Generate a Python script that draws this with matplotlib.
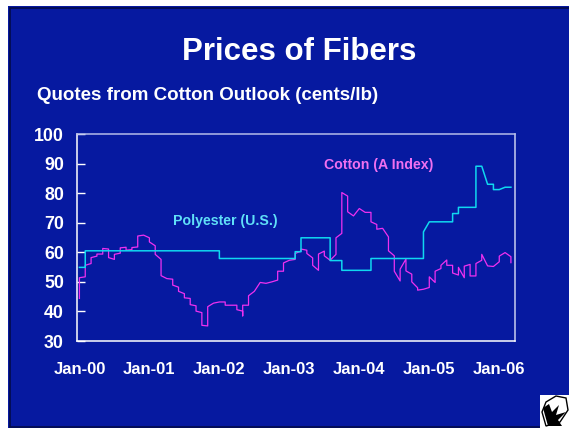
import matplotlib
matplotlib.use("Agg")
import matplotlib.pyplot as plt
from matplotlib.patches import Rectangle, Polygon

# months since Jan-00, cents/lb
cotton_m = [0, 0, 1, 1, 2, 2, 3, 3, 4, 4, 5, 5, 6, 6, 7, 7, 8, 8, 9, 9, 10, 10, 11, 12, 12, 13, 13, 14, 14, 15,
            16, 16, 17, 17, 18, 18, 19, 19, 20, 20, 21, 21, 22, 22, 23, 24, 25, 25, 27, 27, 28, 28, 28, 29, 29,
            30, 31, 32, 33, 34, 34, 35, 35, 36, 37, 37, 38, 38, 39, 39, 40, 40, 41, 41, 42, 42, 43, 44, 44, 45,
            45, 46, 46, 47, 48, 49, 50, 50, 51, 51, 52, 53, 53, 54, 54, 55, 55, 56, 56, 57, 57, 58, 58, 59, 60,
            60, 61, 61, 62, 62, 63, 63, 64, 64, 65, 65, 66, 66, 67, 67, 68, 68, 69, 69, 70, 71, 72, 72, 73, 74, 74]
cotton_v = [44.4, 51.4, 51.7, 55.6, 56.2, 58.2, 58.7, 59.4, 59.4, 61.3, 61.1, 58.2, 57.6, 59.3, 59.7, 61.5, 61.7,
            60.7, 60.9, 61.6, 61.8, 65.5, 65.8, 64.9, 63.5, 62.2, 59.3, 57.6, 52.1, 51.1, 50.9, 48.9, 48.2, 46.8,
            46.0, 44.6, 44.4, 42.3, 41.9, 40.1, 39.6, 35.3, 35.1, 41.6, 42.8, 43.2, 43.2, 42.1, 42.1, 40.6, 40.1,
            38.5, 42.1, 42.1, 45.3, 46.8, 49.8, 49.5, 50.0, 50.6, 53.6, 53.6, 56.4, 57.3, 57.6, 59.6, 60.4, 61.1,
            60.7, 59.6, 58.1, 55.6, 53.9, 59.4, 60.4, 58.8, 57.3, 59.3, 64.9, 66.4, 80.2, 79.0, 73.7, 72.3, 74.8,
            73.5, 73.5, 70.3, 69.4, 67.8, 68.1, 65.2, 60.5, 58.8, 53.6, 50.3, 54.3, 57.7, 53.7, 52.6, 50.0, 48.0,
            47.2, 47.5, 48.1, 51.7, 49.8, 53.6, 54.5, 55.6, 57.4, 55.6, 55.6, 53.0, 52.3, 54.9, 51.4, 55.3, 55.9,
            52.0, 52.0, 56.2, 57.3, 59.3, 55.4, 55.2, 56.8, 58.7, 59.9, 58.5, 56.5]
poly_m = [0, 1, 1, 24, 24, 37, 37, 38, 38, 43, 43, 45, 45, 50, 50, 59, 59, 60, 64, 64, 65, 65, 68, 68, 69, 70, 71,
          71, 72, 73, 74]
poly_v = [54.9, 54.9, 60.5, 60.5, 57.9, 57.9, 60.2, 60.2, 64.9, 64.9, 57.2, 57.2, 53.9, 53.9, 57.9, 57.9, 66.9,
          70.3, 70.3, 73.1, 73.1, 75.2, 75.2, 89.1, 89.1, 83.0, 83.0, 81.2, 81.2, 82.0, 82.0]
tick_m = [0, 12, 24, 36, 48, 60, 72]
tick_labels = ["Jan-00", "Jan-01", "Jan-02", "Jan-03", "Jan-04", "Jan-05", "Jan-06"]
y_ticks = [30, 40, 50, 60, 70, 80, 90, 100]

W, H = 569, 428
BG = "#0619A0"
plt.rcParams["font.family"] = "Liberation Sans"
plt.rcParams["font.weight"] = "bold"

fig = plt.figure(figsize=(W / 100, H / 100), dpi=100, facecolor="white")

# slide background, dark edge sits just inside it
fig.add_artist(Rectangle((8 / W, 0), 1, 1 - 6 / H, transform=fig.transFigure, facecolor=BG,
                         edgecolor="none", zorder=-5))
fig.add_artist(Rectangle((9.5 / W, 1.5 / H), 1, 1 - 9 / H, transform=fig.transFigure, facecolor=BG,
                         edgecolor="#030B4A", linewidth=1.2, zorder=-4))

ax = fig.add_axes([76.5 / W, 1 - 341 / H, (515 - 76.5) / W, (341 - 134) / H], facecolor=BG, zorder=2)
ax.plot(cotton_m, cotton_v, color="#F030F0", linewidth=0.9)
ax.plot(poly_m, poly_v, color="#10D8F0", linewidth=1.1)

ax.set_xlim(-0.5, 74.7)
ax.set_ylim(30, 100)
ax.set_xticks(tick_m)
ax.set_xticklabels(tick_labels)
ax.set_yticks(y_ticks)
ax.tick_params(axis="x", length=0, pad=15, colors="white", labelsize=12)
ax.tick_params(axis="y", direction="in", length=6, width=1, pad=9, colors="white", labelsize=12.8)
for s in ax.spines.values():
    s.set_color("white")
    s.set_linewidth(1.1)
ax.spines["top"].set_color("#B4BCEA")
ax.spines["right"].set_color("#C8CEF0")

ax.text(51.3, 89.5, "Cotton (A Index)", color="#F070F0", fontsize=10.2, ha="center", va="center")
ax.text(25.0, 70.5, "Polyester (U.S.)", color="#60E0F8", fontsize=10.2, ha="center", va="center")
fig.text(299 / W, 1 - 52.5 / H, "Prices of Fibers", color="white", fontsize=22.5, ha="center", va="center", zorder=5)
fig.text(37 / W, 1 - 95.5 / H, "Quotes from Cotton Outlook (cents/lb)", color="white", fontsize=13.5, ha="left",
         va="center", zorder=5)

# cotton boll icon in the corner
fig.add_artist(Rectangle((540 / W, 0), 29 / W, 33 / H, transform=fig.transFigure, facecolor="white", edgecolor="none"))
boll = [(546, 402), (556, 396), (566, 398), (568, 410), (560, 422), (546, 426), (542, 412)]
fig.add_artist(Polygon([(x / W, 1 - y / H) for x, y in boll], transform=fig.transFigure, facecolor="white",
                       edgecolor="black", linewidth=1))
seed = [(543, 408), (549, 404), (552, 412), (559, 405), (556, 415), (566, 412), (558, 420), (562, 426), (548, 426)]
fig.add_artist(Polygon([(x / W, 1 - y / H) for x, y in seed], transform=fig.transFigure, facecolor="black",
                       edgecolor="none"))

fig.savefig("out.png", dpi=100, facecolor=fig.get_facecolor())
